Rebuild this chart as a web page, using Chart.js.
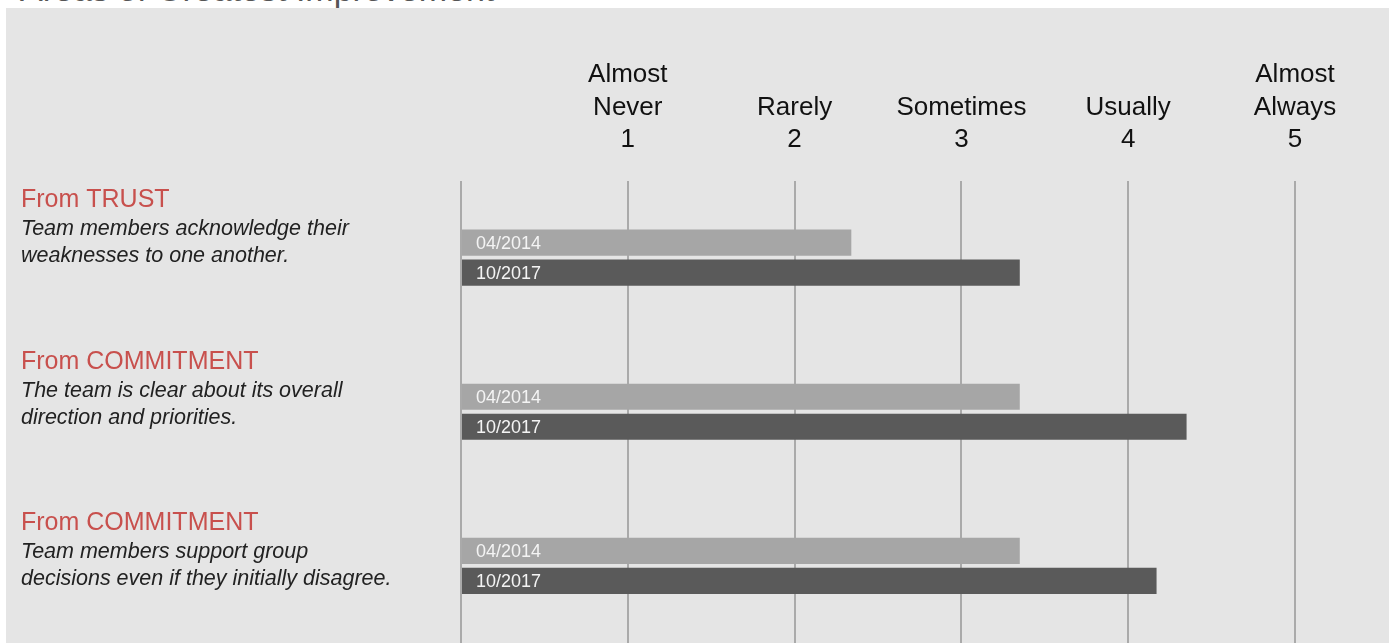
<!DOCTYPE html>
<html>
<head>
<meta charset="utf-8">
<script src="https://cdn.jsdelivr.net/npm/chart.js@4"></script>
<style>
  html, body { margin: 0; padding: 0; background: #fff; overflow: hidden; }
  #wrap { position: relative; width: 1389px; height: 643px; }
  #panel { position: absolute; left: 6px; top: 8px; right: 0; bottom: 0; background: #e5e5e5; }
  #title { position: absolute; left: 20px; top: -30px; font: 34px "Liberation Sans", Arial, sans-serif; color: #555; white-space: nowrap; }
  #chart { position: absolute; left: 0; top: 0; }
</style>
</head>
<body>
<div id="wrap">
  <div id="title">Areas of Greatest Improvement</div>
  <div id="panel"></div>
  <canvas id="chart" width="1389" height="643"></canvas>
</div>
<script>
const categories = ["From TRUST", "From COMMITMENT", "From COMMITMENT"];
const statements = [
  ["Team members acknowledge their", "weaknesses to one another."],
  ["The team is clear about its overall", "direction and priorities."],
  ["Team members support group", "decisions even if they initially disagree."]
];
const seriesNames = ["04/2014", "10/2017"];
const values2014 = [2.34, 3.35, 3.35];
const values2017 = [3.35, 4.35, 4.17];
const scaleWords = [[], ["Almost", "Never"], ["Rarely"], ["Sometimes"], ["Usually"], ["Almost", "Always"]];

const FONT = '"Liberation Sans", Arial, sans-serif';

// left-side question text, drawn beside each row
const sideLabels = {
  id: "sideLabels",
  afterDraw(chart) {
    const ctx = chart.ctx;
    const top = chart.chartArea.top;
    ctx.save();
    ctx.textAlign = "left";
    ctx.textBaseline = "middle";
    categories.forEach((cat, i) => {
      const y = top + 20 + i * 161.5;
      ctx.fillStyle = "#c8504d";
      ctx.font = "25px " + FONT;
      ctx.fillText(cat, 21, y);
      ctx.fillStyle = "#222";
      ctx.font = "italic 21.5px " + FONT;
      statements[i].forEach((line, j) => {
        ctx.fillText(line, 21, y + 29 + j * 27);
      });
    });
    ctx.restore();
  }
};

// dataset name written inside each bar
const barNames = {
  id: "barNames",
  afterDraw(chart) {
    const ctx = chart.ctx;
    ctx.save();
    ctx.font = "18px " + FONT;
    ctx.fillStyle = "#f4f4f4";
    ctx.textAlign = "left";
    ctx.textBaseline = "middle";
    chart.data.datasets.forEach((ds, di) => {
      chart.getDatasetMeta(di).data.forEach((bar) => {
        ctx.fillText(ds.label, bar.base + 14, bar.y + 1);
      });
    });
    ctx.restore();
  }
};

const ctx = document.getElementById("chart").getContext("2d");
const chart = new Chart(ctx, {
  type: "bar",
  data: {
    labels: categories,
    datasets: [
      {
        label: seriesNames[0],
        data: values2014,
        backgroundColor: "#a6a6a6",
        categoryPercentage: 0.39,
        barPercentage: 0.87
      },
      {
        label: seriesNames[1],
        data: values2017,
        backgroundColor: "#5a5a5a",
        categoryPercentage: 0.39,
        barPercentage: 0.87
      }
    ]
  },
  options: {
    responsive: false,
    animation: false,
    indexAxis: "y",
    layout: { padding: { left: 461, right: 94, top: 35, bottom: 0 } },
    plugins: { legend: { display: false }, tooltip: { enabled: false } },
    scales: {
      x: {
        position: "top",
        min: 0,
        max: 5,
        z: 1,
        border: { display: false },
        grid: { color: "#aaaaaa", lineWidth: 2, drawTicks: false },
        ticks: {
          stepSize: 1,
          padding: 24,
          color: "#111",
          font: { family: FONT, size: 26, lineHeight: 1.25 },
          maxRotation: 0,
          autoSkip: false,
          callback: (v) => {
            const words = scaleWords[v] || [];
            const lines = words.concat(v > 0 ? [String(v)] : [""]);
            while (lines.length < 3) lines.unshift("");
            return lines;
          }
        }
      },
      y: {
        display: false
      }
    }
  },
  plugins: [sideLabels, barNames]
});
</script>
</body>
</html>
